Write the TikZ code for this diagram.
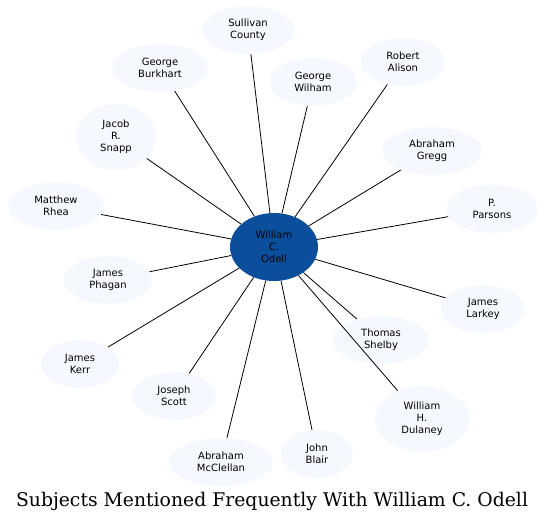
\documentclass[tikz,border=0pt]{standalone}
\usepackage{fontspec}
\usetikzlibrary{shapes.geometric}
\setmainfont{DejaVu Sans}
\newfontfamily\titlefont{DejaVu Serif}
\definecolor{hubblue}{HTML}{0B4F9C}
\definecolor{leaffill}{HTML}{F5F9FF}
\begin{document}
\begin{tikzpicture}[x=1pt,y=-1pt,
   leaf/.style={ellipse,fill=leaffill,inner sep=0pt,minimum width=#1,minimum height=48pt,
     align=center,font=\fontsize{10}{12}\selectfont},
   leaf/.default=90pt,
   hub/.style={ellipse,fill=hubblue,inner sep=0pt,minimum width=88pt,minimum height=68pt,
     align=center,font=\fontsize{10}{12}\selectfont},
   spoke/.style={line width=0.8pt}]
   \useasboundingbox (0,0) rectangle (545,524);
   % hub
   \node [hub] (odell) at (274,247) {William\\C.\\Odell};
   % people around it
   \node [leaf=92pt] (sullivan) at (248,30) {Sullivan\\County};
   \node [leaf=96pt] (burkhart) at (160,68) {George\\Burkhart};
   \node [leaf=88pt] (wilham) at (313,82) {George\\Wilham};
   \node [leaf=84pt] (alison) at (403,62) {Robert\\Alison};
   \node [leaf=80pt,minimum height=66pt] (snapp) at (116,137) {Jacob\\R.\\Snapp};
   \node [leaf=100pt] (gregg) at (432,151) {Abraham\\Gregg};
   \node [leaf=96pt] (rhea) at (56,206) {Matthew\\Rhea};
   \node [leaf=92pt] (parsons) at (492,209) {P.\\Parsons};
   \node [leaf=88pt] (phagan) at (108,280) {James\\Phagan};
   \node [leaf=84pt] (larkey) at (483,309) {James\\Larkey};
   \node [leaf=96pt] (shelby) at (381,340) {Thomas\\Shelby};
   \node [leaf=78pt] (kerr) at (80,364) {James\\Kerr};
   \node [leaf=84pt] (scott) at (174,396) {Joseph\\Scott};
   \node [leaf=94pt,minimum height=66pt] (dulaney) at (422,419) {William\\H.\\Dulaney};
   \node [leaf=104pt] (mcclellan) at (221,462) {Abraham\\McClellan};
   \node [leaf=72pt] (blair) at (317,454) {John\\Blair};
   % spokes
   \foreach \p in {sullivan,burkhart,wilham,alison,snapp,gregg,rhea,parsons,
     phagan,larkey,shelby,kerr,scott,dulaney,mcclellan,blair}
     \draw [spoke] (odell) -- (\p);
   \node (title) at (272,501) {\titlefont\fontsize{18.8}{22}\selectfont Subjects Mentioned Frequently With William C. Odell};
\end{tikzpicture}
\end{document}
